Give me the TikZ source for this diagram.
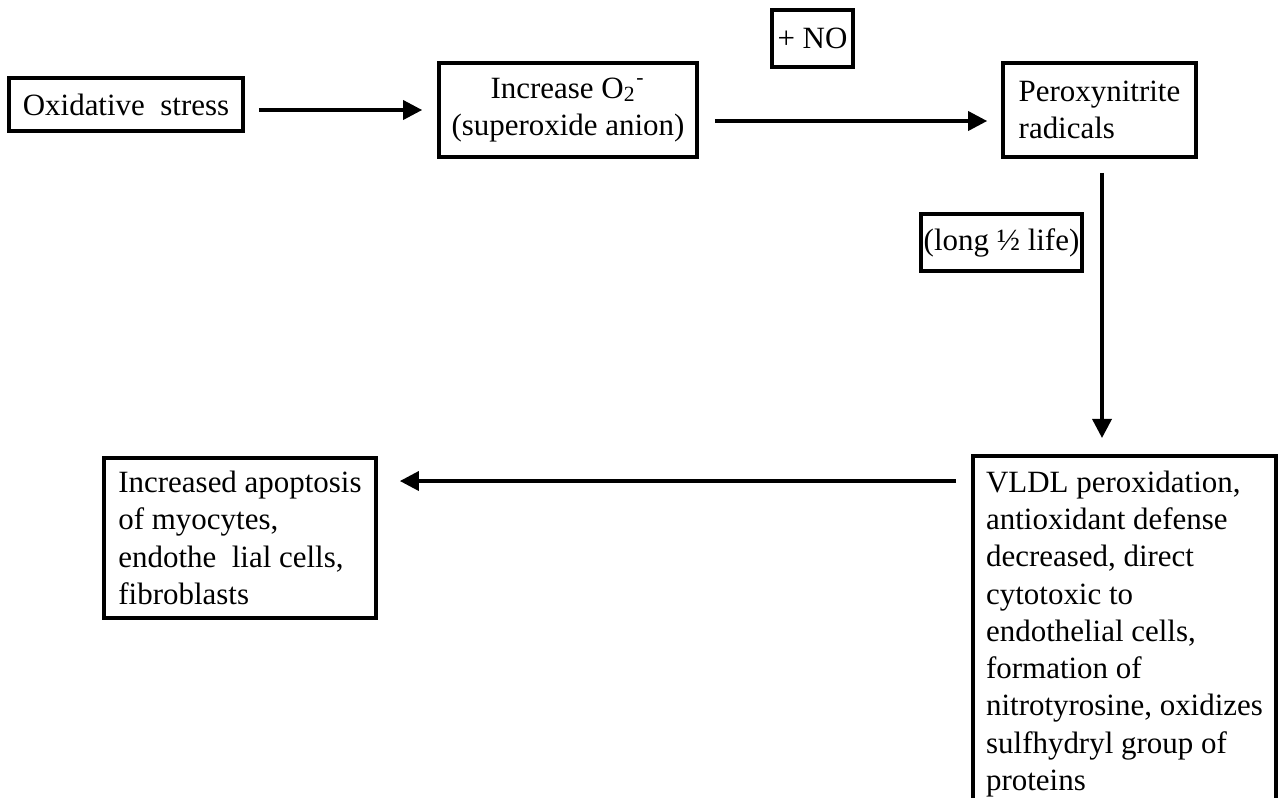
\documentclass[tikz,border=0pt]{standalone}
\usepackage{fontspec}
\setmainfont{Liberation Serif}
\usetikzlibrary{arrows.meta,positioning}

\begin{document}
\begin{tikzpicture}[x=0.01cm,y=-0.01cm,
    box/.style={draw, line width=1pt, inner sep=0pt, font=\fontsize{8.8pt}{10.6pt}\selectfont},
    arr/.style={line width=1pt, -{Triangle[length=0.19cm,width=0.19cm]}}]
    \useasboundingbox (0,0) rectangle (1279,797);
    \node[box, minimum width=2.34cm, minimum height=0.53cm] (ox) at (126,104.5) {Oxidative\ \ stress};
    \node[box, minimum width=2.58cm, minimum height=0.94cm, align=center] (inc) at (568,110) {Increase O\textsubscript{2}\textsuperscript{-}\\(superoxide anion)};
    \node[box, minimum width=0.81cm, minimum height=0.57cm] (no) at (812.5,38.5) {+ NO};
    \node[box, minimum width=1.93cm, minimum height=0.94cm, align=left] (per) at (1099.5,110) {Peroxynitrite\\radicals};
    \node[box, minimum width=1.61cm, minimum height=0.57cm] (half) at (1001.5,242.5) {(long ½ life)};
    \node[box, minimum width=3.03cm, inner ysep=0.15cm, align=left, anchor=north] (vldl) at (1124.5,454) {VLDL peroxidation,\\antioxidant defense\\decreased, direct\\cytotoxic to\\endothelial cells,\\formation of\\nitrotyrosine, oxidizes\\sulfhydryl group of\\proteins};
    \node[box, minimum width=2.72cm, minimum height=1.6cm, align=left] (apo) at (240,538) {Increased apoptosis\\of myocytes,\\endothe\ \ lial cells,\\fibroblasts};
    \coordinate (v4) at ([yshift=-0.27cm]vldl.north west);
    \draw[arr, shorten <=0.14cm, shorten >=0.15cm] (ox.east |- inc.west) -- (inc.west);
    \draw[arr, shorten <=0.16cm, shorten >=0.14cm] ([yshift=-0.11cm]inc.east) -- ([yshift=-0.11cm]per.west);
    \draw[arr, shorten <=0.14cm, shorten >=0.16cm] ([xshift=0.025cm]per.south) -- ([xshift=0.025cm]per.south |- vldl.north);
    \draw[arr, shorten <=0.15cm, shorten >=0.22cm] (v4) -- (v4 -| apo.east);
\end{tikzpicture}
\end{document}
